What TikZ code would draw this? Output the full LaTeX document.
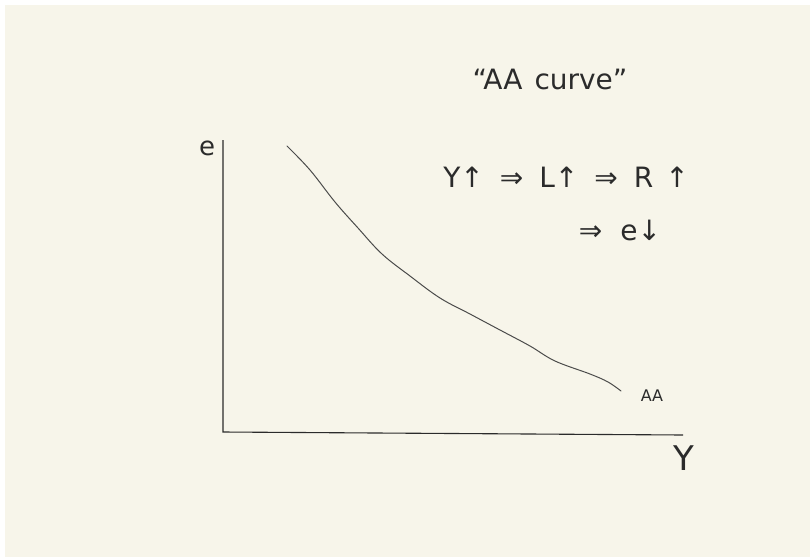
\documentclass[tikz,border=0pt]{standalone}
\usepackage{fontspec}
\setmainfont{DejaVu Sans}
\usetikzlibrary{positioning}
\definecolor{paper}{HTML}{F7F5EA}
\definecolor{ink}{HTML}{2B2B2B}
\newcommand{\gap}[1][16pt]{\hspace{#1}}
\tikzset{
  lbl/.style  = {inner sep=0pt, text=ink},
  big/.style  = {lbl, font=\fontsize{28}{30}\selectfont},
  axis/.style = {draw=ink, line width=1.1pt},
  crv/.style  = {draw=ink!85, line width=1pt, line cap=round},
}

\begin{document}
\begin{tikzpicture}[x=1pt,y=-1pt]
  \useasboundingbox (0,0) rectangle (810,557);
  \fill[white] (0,0) rectangle (810,557);
  \fill[paper] (5,5) rectangle (810,557);
  % axes
  \coordinate (origin) at (223,432);
  \coordinate (etop)   at (223,140);
  \coordinate (yend)   at (683,435);
  \draw[axis] (etop) -- (origin) -- (yend);
  \node[lbl, font=\fontsize{26}{28}\selectfont] (elab) at (207,148) {e};
  \node[lbl, font=\fontsize{34}{36}\selectfont] (ylab) at (684,458) {Y};
  % the AA curve
  \draw[crv] plot[smooth, tension=0.6] coordinates {(287,146) (310,170) (335,202)
    (358,228) (382,254) (410,276) (440,298) (470,314) (500,330) (530,346)
    (555,361) (590,374) (608,382) (621,391)};
  \node[lbl, font=\fontsize{16}{17}\selectfont] (aalab) at (652,396) {AA};
  % text
  \node[big] (title)  at (550,79)  {“AA\gap[12pt]curve”};
  \node[big] (chain)  at (566,177) {Y↑\gap⇒\gap L↑\gap⇒\gap R\gap[12pt]↑};
  \node[big] (result) at (620,230) {⇒\gap[18pt]e↓};
\end{tikzpicture}
\end{document}
